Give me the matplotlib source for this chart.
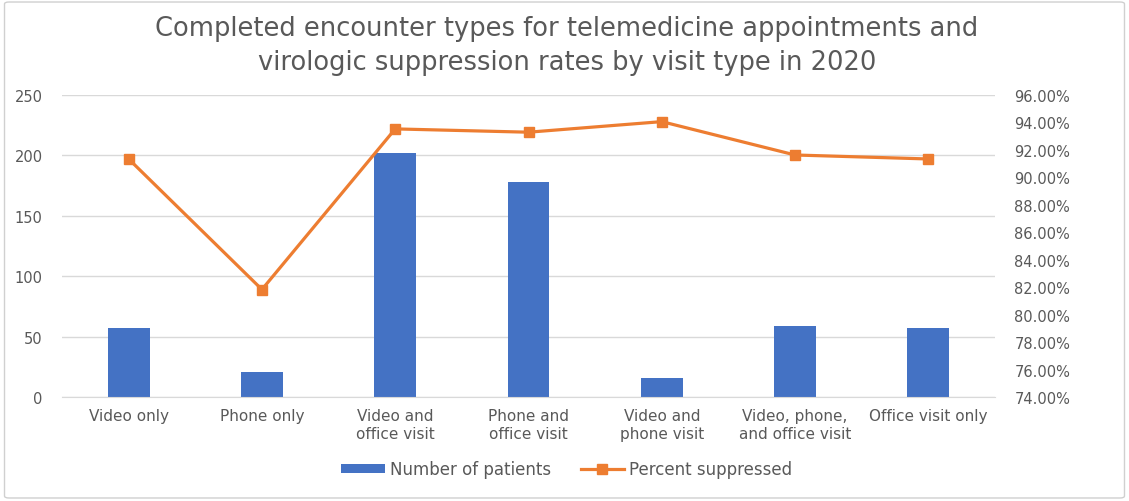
import matplotlib
matplotlib.use("Agg")
import matplotlib.pyplot as plt
from matplotlib.patches import FancyBboxPatch
from matplotlib.ticker import FuncFormatter, MultipleLocator

plt.rcParams['font.family'] = ['DejaVu Sans']

categories = ["Video only", "Phone only", "Video and\noffice visit", "Phone and\noffice visit",
              "Video and\nphone visit", "Video, phone,\nand office visit", "Office visit only"]
patients = [57, 21, 202, 178, 16, 59, 57]
pct_suppressed = [91.34, 81.83, 93.53, 93.29, 94.06, 91.63, 91.34]

title = "Completed encounter types for telemedicine appointments and\nvirologic suppression rates by visit type in 2020"

BAR = "#4472C4"
LINE = "#ED7D31"
TXT = "#595959"
GRID = "#D9D9D9"

fig = plt.figure(figsize=(11.29, 5.02), dpi=100)
fig.patch.set_facecolor("white")
border = FancyBboxPatch((0.004, 0.006), 0.992, 0.988, boxstyle="round,pad=0,rounding_size=0.004",
                        transform=fig.transFigure, facecolor="white", edgecolor="#D0D0D0", lw=1.0,
                        zorder=-5)
fig.patches.append(border)

ax = fig.add_axes([62/1129, 1-398/502, (995-62)/1129, (398-96)/502])
ax.set_zorder(1)
ax.patch.set_alpha(0)
x = list(range(len(categories)))
ax.bar(x, patients, width=0.315, color=BAR, zorder=2, label="Number of patients")
ax.set_ylim(0, 250)
ax.set_xlim(-0.5, len(categories)-0.5)
ax.yaxis.set_major_locator(MultipleLocator(50))
ax.grid(axis='y', color=GRID, lw=1, zorder=0)
ax.set_axisbelow(True)
for s in ax.spines.values():
    s.set_visible(False)
ax.spines['bottom'].set_visible(True)
ax.spines['bottom'].set_color(GRID)
ax.tick_params(axis='both', length=0, colors=TXT, labelsize=10.5)
ax.tick_params(axis='y', pad=14)
ax.set_xticks(x)
ax.set_xticklabels(categories, fontsize=11, color=TXT, linespacing=1.2)
ax.tick_params(axis='x', pad=8)

ax2 = ax.twinx()
ax2.set_zorder(2)
ax2.patch.set_alpha(0)
ax2.plot(x, pct_suppressed, color=LINE, lw=2.3, marker='s', markersize=7, zorder=3, label="Percent suppressed")
ax2.set_ylim(74, 96)
ax2.yaxis.set_major_locator(MultipleLocator(2))
ax2.yaxis.set_major_formatter(FuncFormatter(lambda v, p: f"{v:.2f}%"))
for s in ax2.spines.values():
    s.set_visible(False)
ax2.tick_params(axis='y', length=0, colors=TXT, labelsize=10.5, pad=14)

fig.text(0.502, 1-46/502, title, ha='center', va='center', fontsize=18.5, color=TXT, linespacing=1.38)

h1, l1 = ax.get_legend_handles_labels()
h2, l2 = ax2.get_legend_handles_labels()
fig.legend(h1 + h2, l1 + l2, loc='center', bbox_to_anchor=(0.502, 1-470/502), ncol=2, frameon=False,
           fontsize=12, labelcolor=TXT, handlelength=2.6, handleheight=0.45, columnspacing=1.8,
           handletextpad=0.3)

fig.savefig("out.png", dpi=100, facecolor="white")
